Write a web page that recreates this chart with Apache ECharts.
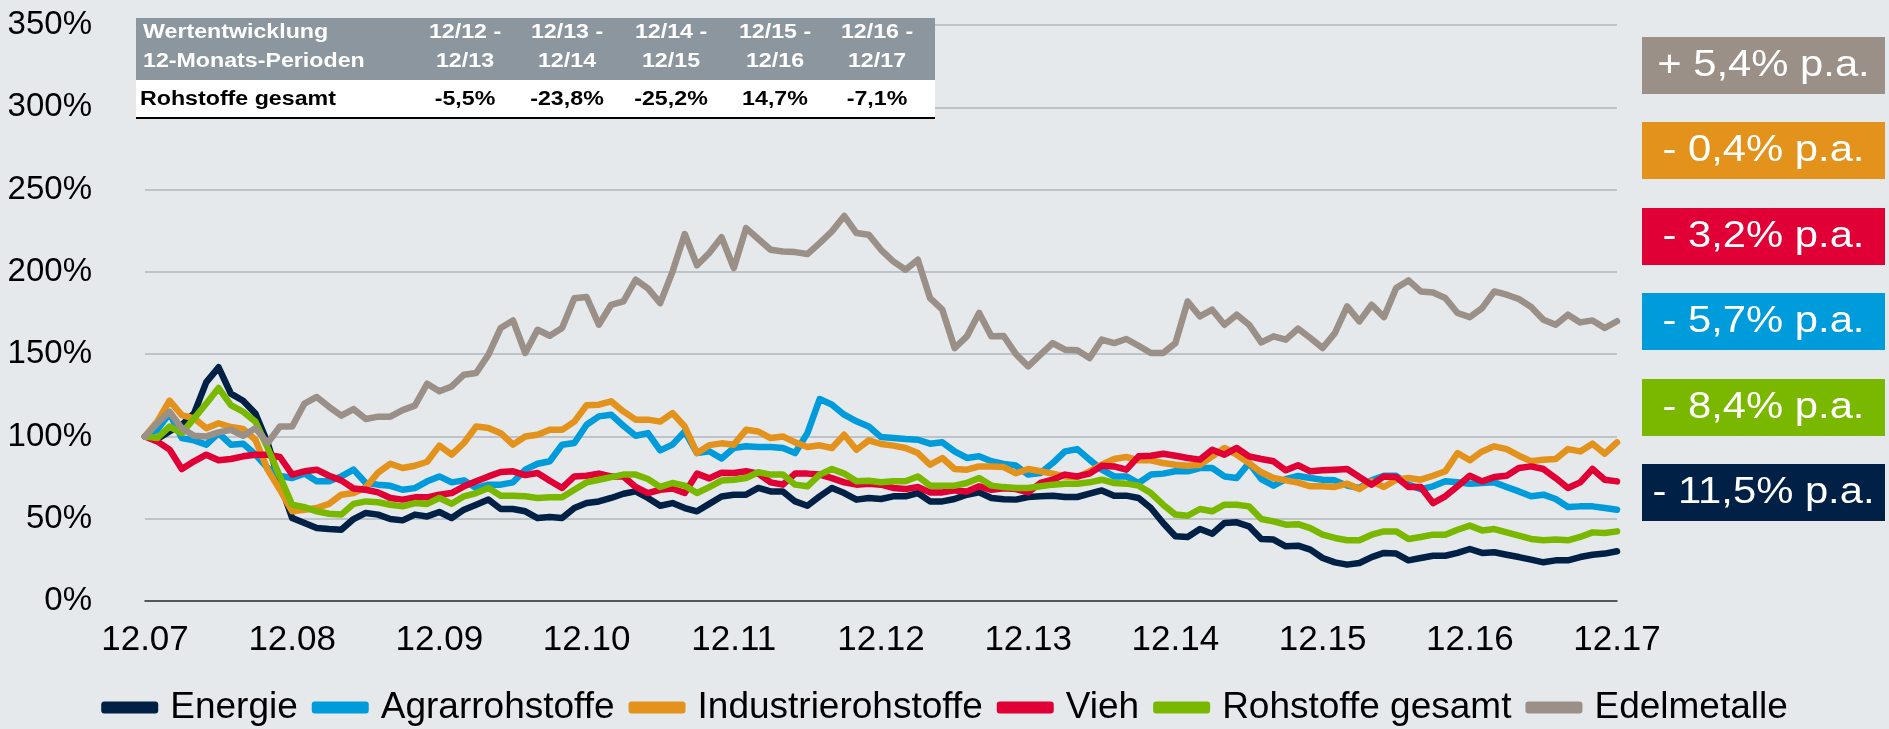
<!DOCTYPE html>
<html>
<head>
<meta charset="utf-8">
<title>Rohstoffe Wertentwicklung</title>
<script src="https://cdn.jsdelivr.net/npm/echarts@6/dist/echarts.min.js"></script>
<style>
  html, body { margin: 0; padding: 0; background: #E5E9EC; }
  #chart { width: 1889px; height: 729px; }
</style>
</head>
<body>
<div id="chart"></div>
<script>
// Monatswerte 12.07 - 12.17, indexiert (12.07 = 100%)
const energie = [
  100, 98.4, 103, 107, 114, 133, 142, 126, 121.7, 114, 96, 71.7, 50.4, 47.4, 44.3, 43.7, 43.3, 49.8, 53.5, 52.5, 49.8, 49, 52.5, 51.4,
  54.1, 50.4, 55.5, 58.5, 61.6, 55.9, 55.9, 54.5, 50.4, 51, 50.4, 56.5, 59.5, 60.5, 62.6, 65.2, 66.6, 62.6, 57.9, 59.5, 56.5, 54.5, 59, 63.5,
  64.6, 64.6, 68.7, 66.6, 66.6, 60.5, 57.9, 63.6, 68.7, 65.6, 61.6, 62.6, 62, 63.6, 63.6, 65.6, 60.5, 60.5, 62, 64.6, 66, 62.6, 61.8, 61.6,
  63.2, 63.6, 64, 63.2, 63.2, 65.2, 67.2, 64, 64, 62.6, 56.5, 47.4, 39.3, 38.9, 43.7, 40.9, 47.4, 47.8, 45.4, 37.7, 37.3, 33.2, 33.6,
  31.2, 26.1, 23.5, 22.1, 23.1, 26.7, 29.2, 28.8, 24.7, 26.1, 27.5, 27.5, 29.2, 31.6, 29.2, 29.6, 28.1, 26.7, 25.1, 23.5, 24.7, 24.7, 26.7, 28.1, 28.8, 30.2
];
const agrar = [
  100, 104, 114, 99, 97.6, 95, 102, 95, 95.6, 89, 80.8, 76, 74.7, 77.4, 72.7, 72.7, 75.7, 79.8, 71.7, 70.7, 70, 67.6, 68.6, 72.7,
  75.7, 72.1, 73.3, 68.7, 70.7, 70.7, 72.1, 79.8, 83.4, 84.9, 95, 96, 107.1, 112.2, 113.2, 106.5, 100.4, 102, 91.5, 95, 103, 89.9, 91, 86.6,
  93, 94, 93.6, 93.6, 93, 89.9, 102, 122.7, 119.3, 113.2, 109.2, 106.1, 99.6, 99, 98.4, 98, 95.6, 96.4, 90.9, 86.9, 87.9, 84.9, 83.3, 82.3,
  76.8, 77.8, 83.8, 90.9, 92.3, 85.9, 79.8, 75.7, 75.7, 71.7, 76.8, 77.4, 78.8, 78.8, 80.8, 80.8, 75.7, 74.7, 83.8, 74.1, 70.1, 74.1, 76,
  74.7, 73.7, 73.3, 70.1, 68.7, 73.3, 76.1, 76.1, 70.7, 68, 69.7, 72.7, 72.1, 71.3, 71.7, 72.1, 69.3, 66.6, 63.6, 64.6, 62, 57.1, 57.5, 57.5, 56.5, 55.5
];
const industrie = [
  100, 109, 121.7, 113, 111, 105, 108, 105.7, 104.5, 98, 79.8, 67.6, 54.5, 55.5, 56.5, 59, 64.6, 65.6, 69, 78, 83.4, 80.8, 82.2, 84.6,
  94.4, 88.9, 96, 106, 105.1, 102, 95, 100, 101, 104, 104, 109, 118.9, 119.3, 121.3, 115.2, 110.2, 110.2, 109, 114.2, 106, 89.9, 94.7, 95.8,
  95, 104, 103, 99, 100, 96.4, 93.6, 94.6, 93, 101, 91.9, 97.6, 95.4, 94.4, 93, 89.9, 82.8, 86.9, 80.2, 79.8, 81.8, 81.8, 81.4, 77.6,
  80.2, 78.8, 77.4, 75.7, 75.3, 78.8, 82.8, 86.3, 87.5, 85.5, 85.5, 83.8, 82.8, 82.2, 82.8, 87.9, 93, 88.9, 83.8, 78.2, 74.7, 73.3, 71.9,
  69.7, 69.7, 69.3, 71.3, 68, 72.7, 69.3, 73.7, 74.7, 73.7, 76.1, 78.8, 89.9, 85.5, 90.9, 94, 92.3, 88.3, 84.9, 85.9, 86.3, 92.3, 90.9, 95.6, 89.5, 96.4
];
const vieh = [
  100, 97, 92, 80.2, 84.9, 88.9, 85.5, 86.3, 87.9, 88.9, 88.9, 87.5, 76.8, 78.8, 79.8, 76.1, 73.3, 68.4, 67.6, 66, 62.6, 61.6, 63, 63,
  64.6, 65.6, 69.7, 72.7, 75.7, 78.4, 78.8, 76.5, 77.8, 73.1, 68.7, 75.7, 76.1, 77.4, 75.7, 75.7, 69.3, 65.6, 67.6, 68.4, 65.6, 77.4, 74.5, 78,
  77.8, 78.8, 77.4, 72.1, 70.7, 77.4, 77.4, 76.8, 74.7, 72.1, 70.7, 71.3, 70.7, 68.7, 68, 69.3, 66, 66, 67.2, 66.6, 69.7, 67.6, 68.5, 68,
  66, 71.7, 73.7, 76.8, 75.7, 77.4, 82.2, 81.8, 79.8, 87.9, 88.3, 89.5, 88.3, 86.9, 85.9, 91.9, 88.9, 93, 87.9, 86.3, 84.9, 79.4, 82.5,
  78.8, 79.4, 79.8, 80.2, 75.3, 70.7, 75.7, 75.3, 69.3, 69.3, 59.5, 63.6, 69.7, 76.1, 72.7, 75.3, 76.1, 80.8, 81.8, 80.2, 74.7, 68.7, 72.1, 80.2, 73.7, 72.7
];
const gesamt = [
  100, 99, 106, 102, 111, 120, 129.4, 119, 115, 109, 93, 75.7, 58.5, 57, 54.5, 53, 52.5, 59, 60.5, 60, 58.5, 57.5, 59.5, 59,
  62.6, 59.1, 63.6, 65.6, 68.7, 64, 64, 63.6, 62.6, 63, 63, 67.6, 72.1, 73.7, 75.3, 76.8, 76.8, 74.1, 69.3, 71.7, 70.1, 65.6, 69.2, 73.2,
  73.7, 74.7, 78.2, 76.8, 76.8, 70.7, 69.7, 76.8, 80.2, 77.4, 72.7, 73.1, 72.1, 72.7, 72.7, 75.7, 70.1, 70.1, 70.1, 71.7, 74.7, 70.1, 69.2, 68.7,
  68.7, 69.7, 70.7, 71.3, 71.3, 72.1, 73.7, 71.7, 71.3, 70.1, 65.6, 58.5, 52.5, 51.8, 55.9, 54.5, 58.5, 58.5, 57.5, 49.8, 48.4, 46.4, 46.7,
  44.3, 40.3, 38.3, 36.9, 36.9, 40.3, 42.3, 42.3, 37.7, 38.9, 40.3, 40.3, 43.3, 45.8, 42.9, 43.7, 41.7, 39.7, 37.7, 36.9, 37.3, 36.9, 38.9, 41.7, 41.3, 42.3
];
const edelmetalle = [
  100, 108, 115, 105, 100.4, 100, 102.5, 104, 100.4, 105, 96, 106, 106, 120, 124, 118, 112.6, 116.6, 110.6, 112, 112, 116, 118.7, 132,
  127.4, 130.4, 137.5, 138.5, 149.7, 165.9, 170.5, 150.7, 164.8, 161.2, 165.9, 184, 184.7, 167.9, 180, 182, 195.2, 190, 181, 200, 223, 204, 211.5, 221,
  202.3, 226.6, 220, 213.4, 212.4, 212, 210.8, 217.5, 224.6, 234, 223.6, 222.6, 213.4, 206.4, 201.3, 207.4, 184, 177, 153.7, 160.8, 175, 160.8, 161, 150,
  142.6, 149.7, 156.7, 152.7, 152.3, 147.6, 158.8, 156.7, 159.2, 155.1, 150.7, 150.7, 156.7, 182, 172.9, 177, 167.9, 174, 167.9, 157.1, 160.8, 158.8, 165.5,
  159.8, 153.7, 162.8, 179, 169.9, 180, 172.5, 190.2, 194.8, 188.1, 187.5, 184.1, 175, 172.5, 178, 188.1, 186.1, 183.5, 178.6, 170.9, 167.9, 174, 169.3, 170.5, 165.9, 170
];

const seriesNames = ['Energie', 'Agrarrohstoffe', 'Industrierohstoffe', 'Vieh', 'Rohstoffe gesamt', 'Edelmetalle'];
const seriesColors = ['#002145', '#009BDB', '#E3921B', '#E10035', '#7AB800', '#9A9088'];
const seriesData = [energie, agrar, industrie, vieh, gesamt, edelmetalle];

// Tabelle oben links
const tableTitle = ['Wertentwicklung', '12-Monats-Perioden'];
const tablePeriodFrom = ['12/12 -', '12/13 -', '12/14 -', '12/15 -', '12/16 -'];
const tablePeriodTo = ['12/13', '12/14', '12/15', '12/16', '12/17'];
const tableRowLabel = 'Rohstoffe gesamt';
const tableValues = ['-5,5%', '-23,8%', '-25,2%', '14,7%', '-7,1%'];

// Renditen p.a. rechts
const paLabels = ['+ 5,4% p.a.', '- 0,4% p.a.', '- 3,2% p.a.', '- 5,7% p.a.', '- 8,4% p.a.', '- 11,5% p.a.'];
const paColors = ['#9A9088', '#E3921B', '#E10035', '#009BDB', '#7AB800', '#002145'];

// Monate 12.07 ... 12.17
const months = [];
for (let k = 0; k < energie.length; k++) {
  const m = (11 + k) % 12 + 1;
  const y = 7 + Math.floor((11 + k) / 12);
  months.push(String(m).padStart(2, '0') + '.' + String(y).padStart(2, '0'));
}

const FONT = '"Liberation Sans", Arial, sans-serif';

const chart = echarts.init(document.getElementById('chart'), null, { renderer: 'canvas' });

const graphics = [];

// table
const tx = 136, tw = 799;
graphics.push({ type: 'rect', shape: { x: tx, y: 18, width: tw, height: 62 }, style: { fill: '#8C969E' }, z: 100 });
graphics.push({ type: 'rect', shape: { x: tx, y: 80, width: tw, height: 37 }, style: { fill: '#FFFFFF' }, z: 100 });
graphics.push({ type: 'line', shape: { x1: tx, y1: 118, x2: tx + tw, y2: 118 }, style: { stroke: '#000', lineWidth: 2 }, z: 101 });

const tableText = (text, x, y, color, align) => ({
  type: 'text', x: x, y: y, scaleX: 1.16, z: 102,
  style: { text: text, fill: color, font: 'bold 20px ' + FONT, textAlign: align, textVerticalAlign: 'middle' }
});
graphics.push(tableText(tableTitle[0], 143, 32, '#fff', 'left'));
graphics.push(tableText(tableTitle[1], 143, 61, '#fff', 'left'));
graphics.push(tableText(tableRowLabel, 140, 99, '#000', 'left'));
const colX = [465, 567, 671, 775, 877];
colX.forEach((cx, i) => {
  graphics.push(tableText(tablePeriodFrom[i], cx, 32, '#fff', 'center'));
  graphics.push(tableText(tablePeriodTo[i], cx, 61, '#fff', 'center'));
  graphics.push(tableText(tableValues[i], cx, 99, '#000', 'center'));
});

// p.a. boxes
const boxTops = [37, 122, 208, 293, 379, 464];
paLabels.forEach((lbl, i) => {
  graphics.push({ type: 'rect', shape: { x: 1642, y: boxTops[i], width: 243, height: 57 }, style: { fill: paColors[i] }, z: 100 });
  graphics.push({
    type: 'text', x: 1763.5, y: boxTops[i] + 29, scaleX: 1.16, z: 101,
    style: { text: lbl, fill: '#fff', font: '36px ' + FONT, textAlign: 'center', textVerticalAlign: 'middle' }
  });
});

const option = {
  backgroundColor: '#E5E9EC',
  animation: false,
  textStyle: { fontFamily: FONT },
  grid: { left: 145, right: 272, top: 25, bottom: 128 },
  legend: {
    data: seriesNames,
    left: 'center',
    top: 684,
    icon: 'roundRect',
    itemWidth: 57,
    itemHeight: 12,
    itemGap: 14,
    textStyle: { fontSize: 37, color: '#000', fontFamily: FONT, padding: [0, 0, 0, 7] }
  },
  xAxis: {
    type: 'category',
    data: months,
    boundaryGap: false,
    axisLine: { lineStyle: { color: '#333', width: 1.5 } },
    axisTick: { show: false },
    axisLabel: { interval: 11, fontSize: 35, color: '#000', margin: 22, fontFamily: FONT }
  },
  yAxis: {
    type: 'value',
    min: 0,
    max: 350,
    interval: 50,
    axisLine: { show: false },
    axisTick: { show: false },
    axisLabel: { formatter: '{value}%', fontSize: 33, color: '#000', margin: 53, fontFamily: FONT },
    splitLine: { lineStyle: { color: '#BDC3C9', width: 2 } }
  },
  series: seriesNames.map((name, i) => ({
    name: name,
    type: 'line',
    data: seriesData[i],
    showSymbol: false,
    symbol: 'none',
    color: seriesColors[i],
    lineStyle: { width: 6.5, color: seriesColors[i], join: 'round', cap: 'round' },
    itemStyle: { color: seriesColors[i] }
  })),
  graphic: graphics
};

chart.setOption(option);
</script>
</body>
</html>
